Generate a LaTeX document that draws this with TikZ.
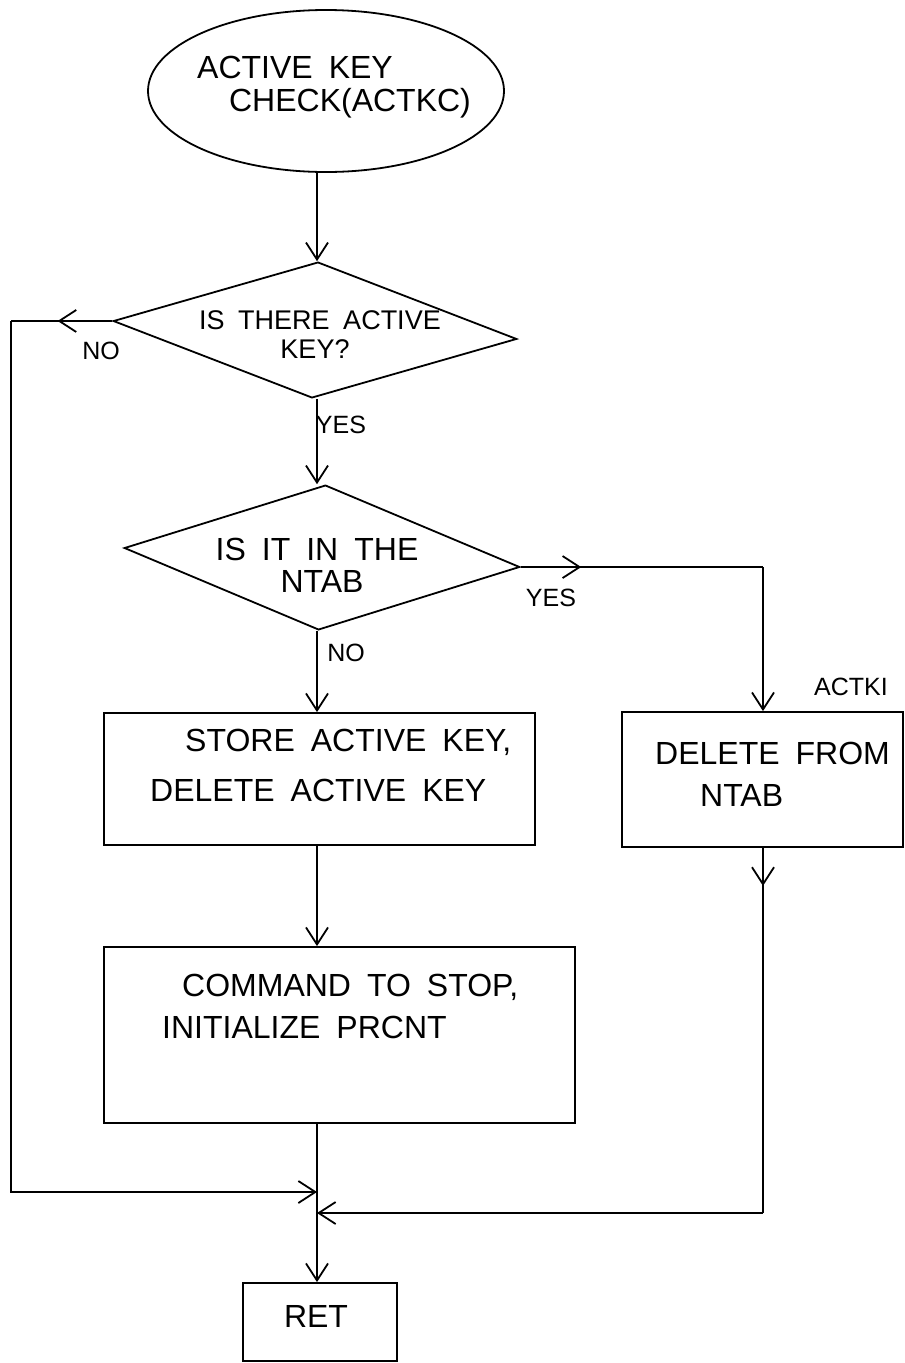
\documentclass[tikz,border=0pt]{standalone}
\usepackage{fontspec}
\newfontfamily\hand{Liberation Sans}[WordSpace=1.8]
\usetikzlibrary{shapes.geometric,arrows.meta,decorations.markings}
\tikzset{
  ln/.style={line width=1.8pt},
  arr/.style={ln,-{Straight Barb[length=17pt,width=22pt]}},
  midarr/.style={ln,postaction={decorate},decoration={markings,mark=at position #1 with {\arrow{Straight Barb[length=17pt,width=22pt]}}}},
  boxnode/.style={draw,ln,rectangle,inner sep=0pt},
  dia/.style={draw,ln,diamond,inner sep=0pt},
  txt/.style={font=\hand\fontsize{32}{36}\selectfont,inner sep=0pt},
  txtd/.style={font=\hand\fontsize{27}{31}\selectfont,inner sep=0pt},
  lbl/.style={font=\hand\fontsize{25}{29}\selectfont,inner sep=0pt},
}
\begin{document}
\begin{tikzpicture}[x=1pt,y=-1pt]
\useasboundingbox[fill=white] (0,0) rectangle (905,1363);
% shapes
\node[draw,ln,ellipse,minimum width=356pt,minimum height=162pt,inner sep=0pt] (start) at (326,91) {};
\node[dia,minimum width=404pt,minimum height=136pt,rotate=-2.55] (d1) at (315,330) {};
\node[dia,minimum width=396pt,minimum height=145pt,rotate=-2.75] (d2) at (322,557.5) {};
\node[boxnode,minimum width=431pt,minimum height=132pt] (box1) at (319.5,779) {};
\node[boxnode,minimum width=281pt,minimum height=135pt] (box2) at (762.5,779.5) {};
\node[boxnode,minimum width=471pt,minimum height=176pt] (box3) at (339.5,1035) {};
\node[boxnode,minimum width=154pt,minimum height=78pt] (ret) at (320,1322) {};
% texts
\node[txt] (t1) at (295,67) {ACTIVE KEY};
\node[txt] (t2) at (350,103) {CHECK(ACTKC)};
\node[txtd] (t3) at (320,320) {IS THERE ACTIVE};
\node[txtd] (t4) at (315,349) {KEY?};
\node[txt] (t5) at (317,549) {IS IT IN THE};
\node[txt] (t6) at (322,581) {NTAB};
\node[txt,anchor=west] (t7) at (185,742) {STORE ACTIVE KEY,};
\node[txt,anchor=west] (t8) at (150,790) {DELETE ACTIVE KEY};
\node[txt,anchor=west] (t9) at (655,753) {DELETE FROM};
\node[txt,anchor=west] (t10) at (700,795) {NTAB};
\node[txt,anchor=west] (t11) at (182,987) {COMMAND TO STOP,};
\node[txt,anchor=west] (t12) at (162,1027) {INITIALIZE PRCNT};
\node[txt] (t13) at (316,1316) {RET};
% labels
\node[lbl] (lno1) at (101,351) {NO};
\node[lbl] (lyes1) at (341,425) {YES};
\node[lbl] (lyes2) at (551,598) {YES};
\node[lbl] (lno2) at (346,653) {NO};
\node[lbl] (lact) at (851,687) {ACTKI};
% coordinates
\coordinate (M) at (317,0);
\coordinate (LX) at (11,0);
\coordinate (RX) at (763,0);
\coordinate (L1) at (d1.west -| LX);
\coordinate (L2) at (11,1192);
\coordinate (J1) at (317,1192);
\coordinate (J2) at (317,1213);
\coordinate (R1) at (d2.east -| RX);
\coordinate (R2) at (763,1213);
% connectors
\draw[arr] (start.south -| M) -- (d1.north -| M);
\draw[midarr=0.54] (d1.west) -- (L1);
\draw[arr] (L1) -- (L2) -- (J1);
\draw[arr] (d1.south -| M) -- (d2.north -| M);
\draw[midarr=0.25] (d2.east) -- (R1);
\draw[arr] (R1) -- (R1 |- box2.north);
\draw[arr] (d2.south -| M) -- (box1.north -| M);
\draw[arr] (box1.south -| M) -- (box3.north -| M);
\draw[arr] (box3.south -| M) -- (ret.north -| M);
\draw[midarr=0.104] (R1 |- box2.south) -- (R2);
\draw[arr] (R2) -- (J2);
\end{tikzpicture}
\end{document}
